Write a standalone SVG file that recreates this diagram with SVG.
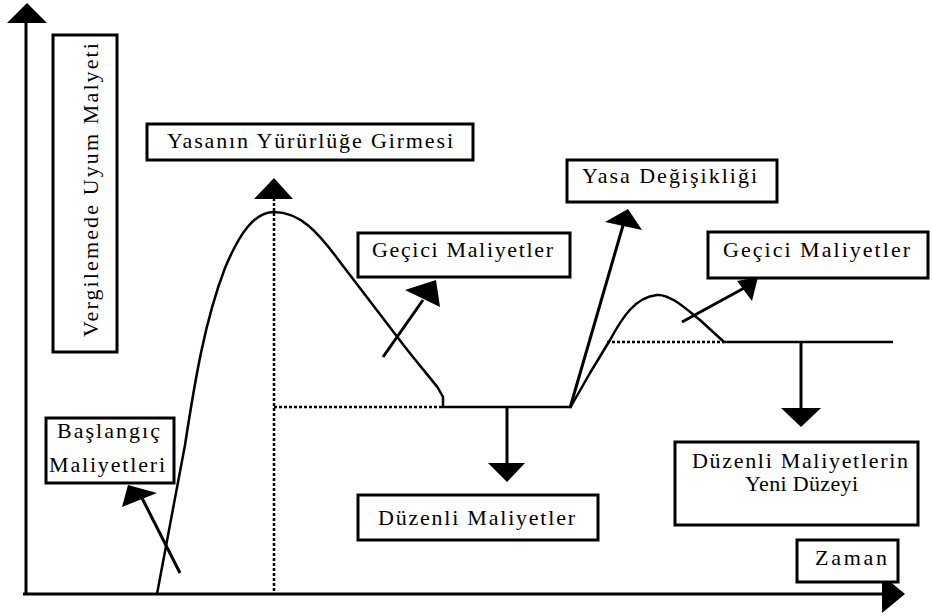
<svg xmlns="http://www.w3.org/2000/svg" width="932" height="616" viewBox="0 0 932 616">
<style>
.box{fill:#fff;stroke:#000;stroke-width:3}
.t{font-family:"Times New Roman",Times,"Liberation Serif",Tinos,"DejaVu Serif",serif;font-size:22px;fill:#000}
.ln{fill:none;stroke:#000;stroke-width:3}
.cv{fill:none;stroke:#000;stroke-width:2.5;stroke-linejoin:round}
.dot{fill:none;stroke:#000;stroke-width:2.5;stroke-dasharray:3,2}
.ah{fill:#000;stroke:none}
</style>
<rect width="932" height="616" fill="#fff"/>
<g id="connectors">
  <line class="ln" x1="26" y1="595" x2="26" y2="20"/>
  <polygon class="ah" points="27,3 7,23 47,23"/>
  <line class="ln" x1="23" y1="594" x2="886" y2="594"/>
  <polygon class="ah" points="905,594 882,575 882,613"/>
  <path class="cv" d="M157,594 L185,445 C195,380 205,320 225,268 C240,232 255,212 274,212 C300,212 318,232 340,262 L405,347 C420,366 432,380 438,388 L443,397 L443,407 L570,407"/>
  <path class="cv" d="M570,408 L590,373 L610,340 C622,318 635,297 657,295 C670,294 685,308 700,320 L724,342 L893,342"/>
  <line class="dot" x1="274" y1="198" x2="274" y2="594"/>
  <polygon class="ah" points="274,178 254,199 293,199"/>
  <line class="dot" x1="274" y1="407" x2="443" y2="407"/>
  <line class="dot" x1="607" y1="342" x2="724" y2="342"/>
  <line class="ln" x1="507" y1="407" x2="507" y2="465"/>
  <polygon class="ah" points="488,463 525,463 507,482"/>
  <line class="ln" x1="801" y1="342" x2="801" y2="410"/>
  <polygon class="ah" points="781,408 821,408 801,427"/>
  <line class="ln" x1="570" y1="408" x2="624" y2="222"/>
  <polygon class="ah" points="605,222 642,230 628,209"/>
  <line class="ln" x1="682" y1="322" x2="746" y2="287"/>
  <polygon class="ah" points="737,281 752,301 758,277"/>
  <line class="ln" x1="383" y1="357" x2="423" y2="300"/>
  <polygon class="ah" points="405,290 440,307 436,280"/>
  <line class="ln" x1="180" y1="573" x2="142" y2="498"/>
  <polygon class="ah" points="122,507 157,493 128,485"/>
</g>
<g id="ylabel">
  <rect class="box" x="53" y="35" width="64" height="317"/>
  <text class="t" transform="translate(98,337) rotate(-90)" textLength="294" lengthAdjust="spacing">Vergilemede Uyum Malyeti</text>
</g>
<g id="yasa-yururluk">
  <rect class="box" x="147" y="124" width="326" height="36"/>
  <text class="t" x="167" y="148" textLength="286" lengthAdjust="spacing">Yasanın Yürürlüğe Girmesi</text>
</g>
<g id="gecici1">
  <rect class="box" x="358" y="233" width="212" height="44"/>
  <text class="t" x="372" y="257" textLength="181" lengthAdjust="spacing">Geçici Maliyetler</text>
</g>
<g id="yasa-degisikligi">
  <rect class="box" x="567" y="160" width="210" height="42"/>
  <text class="t" x="582" y="183" textLength="175" lengthAdjust="spacing">Yasa Değişikliği</text>
</g>
<g id="gecici2">
  <rect class="box" x="708" y="232" width="220" height="46"/>
  <text class="t" x="723" y="257" textLength="187" lengthAdjust="spacing">Geçici Maliyetler</text>
</g>
<g id="baslangic">
  <rect class="box" x="46" y="418" width="128" height="65"/>
  <text class="t" x="57" y="438" textLength="103" lengthAdjust="spacing">Başlangıç</text>
  <text class="t" x="49" y="472" textLength="116" lengthAdjust="spacing">Maliyetleri</text>
</g>
<g id="duzenli">
  <rect class="box" x="358" y="495" width="240" height="45"/>
  <text class="t" x="378" y="525" textLength="197" lengthAdjust="spacing">Düzenli Maliyetler</text>
</g>
<g id="yeni-duzey">
  <rect class="box" x="675" y="442" width="243" height="83"/>
  <text class="t" x="692" y="468" textLength="216" lengthAdjust="spacing">Düzenli Maliyetlerin</text>
  <text class="t" x="745" y="491" textLength="113" lengthAdjust="spacing">Yeni Düzeyi</text>
</g>
<g id="zaman">
  <rect class="box" x="797" y="540" width="101" height="42"/>
  <text class="t" x="815" y="565" textLength="72" lengthAdjust="spacing">Zaman</text>
</g>
</svg>
